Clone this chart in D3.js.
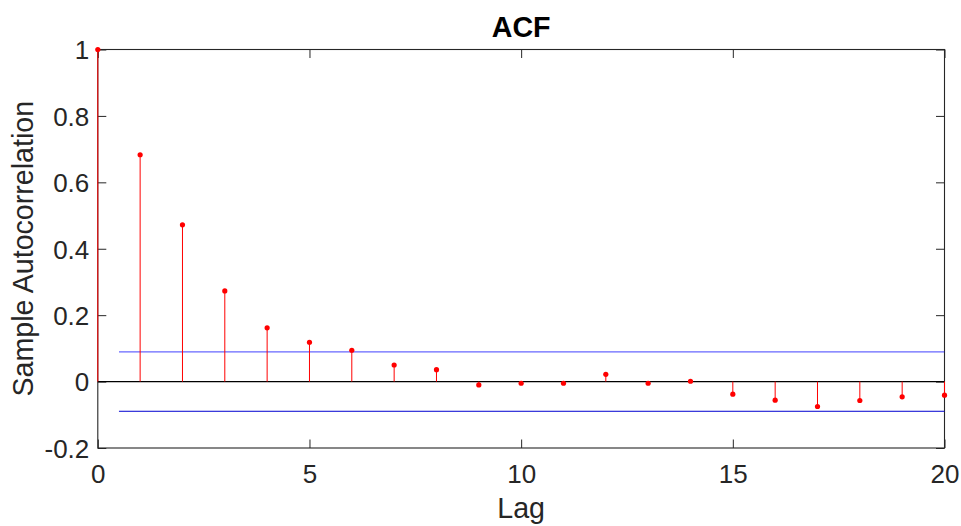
<!DOCTYPE html>
<html><head><meta charset="utf-8">
<script src="https://cdn.jsdelivr.net/npm/d3@7"></script>
<style>body{margin:0;background:#fff}svg{display:block}text{font-family:"Liberation Sans",Arial,Helvetica,sans-serif;fill:#262626}</style>
</head><body><svg id="c" width="961" height="526"></svg>
<script>
const lags = [0,1,2,3,4,5,6,7,8,9,10,11,12,13,14,15,16,17,18,19,20];
const acf = [1,0.683,0.472,0.273,0.162,0.1185,0.0944,0.050,0.036,-0.010,-0.005,-0.005,0.022,-0.005,0.001,-0.038,-0.056,-0.075,-0.057,-0.046,-0.041];
const bounds = [0.0894,-0.0894];
const xTicks = [0,5,10,15,20];
const yTicks = [-0.2,0,0.2,0.4,0.6,0.8,1];
const titleText = "ACF", xLabel = "Lag", yLabel = "Sample Autocorrelation";

(function(){
const svg = d3.select("#c");
const L=97.8, R=944.5, T=49.5, B=448;
const x = d3.scaleLinear().domain([0,20]).range([L,R]);
const y = d3.scaleLinear().domain([-0.2,1]).range([B,T]);
const axc="#262626", tl=8.5;

// axes box (drawn first so marks sit on top)
const axB = d3.axisBottom(x).tickValues(xTicks).tickSize(-tl).tickFormat(d3.format("d"));
const axT = d3.axisTop(x).tickValues(xTicks).tickSize(-tl).tickFormat("");
const axL = d3.axisLeft(y).tickValues(yTicks).tickSize(-tl).tickFormat(d=>String(+d.toFixed(1)));
const axR = d3.axisRight(y).tickValues(yTicks).tickSize(-tl).tickFormat("");
function style(g){g.selectAll("line").attr("stroke",axc);g.selectAll("text").attr("fill",axc).style("font-size","26px").style("font-family","'Liberation Sans',Arial,sans-serif");}
const gb=svg.append("g").attr("transform",`translate(0,${B})`).call(axB).call(style);
gb.selectAll("text").attr("dy",null).attr("y",34.7);
svg.append("g").attr("transform",`translate(0,${T})`).call(axT).call(style);
const gl=svg.append("g").attr("transform",`translate(${L},0)`).call(axL).call(style);
gl.selectAll("text").attr("x",-8.5).attr("dy","0.36em");
svg.append("g").attr("transform",`translate(${R},0)`).call(axR).call(style);
svg.selectAll(".domain").remove();
svg.append("rect").attr("x",L).attr("y",T).attr("width",R-L).attr("height",B-T).attr("fill","none").attr("stroke",axc).attr("stroke-width",1.1);

// bounds
svg.append("line").attr("x1",x(0.5)).attr("x2",x(20)).attr("y1",y(bounds[0])).attr("y2",y(bounds[0]))
  .attr("stroke","#0000ff").attr("stroke-opacity",0.6).attr("stroke-width",1.2);
svg.append("line").attr("x1",x(0.5)).attr("x2",x(20)).attr("y1",y(bounds[1])).attr("y2",y(bounds[1]))
  .attr("stroke","#0000d0").attr("stroke-width",1);
// zero line
svg.append("line").attr("x1",L).attr("x2",R).attr("y1",y(0)).attr("y2",y(0)).attr("stroke","#000").attr("stroke-width",1.2);

// stems
svg.append("g").selectAll("line").data(lags).join("line")
  .attr("x1",d=>x(d)).attr("x2",d=>x(d)).attr("y1",y(0)).attr("y2",(d,i)=>y(acf[i]))
  .attr("stroke","#ff0000").attr("stroke-width",1);
svg.append("g").selectAll("circle").data(lags).join("circle")
  .attr("cx",d=>x(d)).attr("cy",(d,i)=>y(acf[i])).attr("r",2.6).attr("fill","#ff0000");

// texts
svg.append("text").attr("x",(L+R)/2).attr("y",36.7).attr("text-anchor","middle").style("font-size","28.6px").style("font-weight","bold").style("fill","#000").text(titleText);
svg.append("text").attr("x",(L+R)/2).attr("y",518).attr("text-anchor","middle").style("font-size","28.6px").text(xLabel);
svg.append("text").attr("transform",`translate(32.5,${(T+B)/2}) rotate(-90)`).attr("text-anchor","middle").style("font-size","28.6px").text(yLabel);
})();
</script></body></html>
